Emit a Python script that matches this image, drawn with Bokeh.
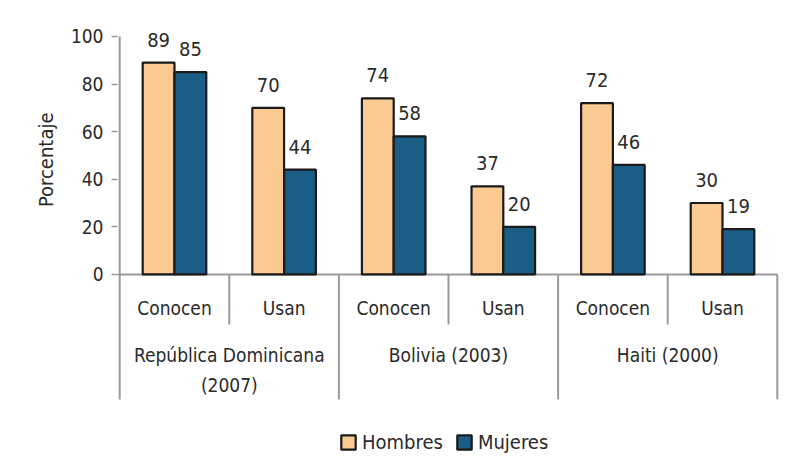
import math
import numpy as np
from bokeh.plotting import figure
from bokeh.models import Range1d, FixedTicker, Legend, LegendItem, Title
from bokeh.core.properties import value
from bokeh.embed import file_html
from bokeh.resources import INLINE

# ---- data ----
groups = ["República Dominicana\n(2007)", "Bolivia (2003)", "Haiti (2000)"]
measures = ["Conocen", "Usan"]
hombres = [89, 70, 74, 37, 72, 30]
mujeres = [85, 44, 58, 20, 46, 19]
y_ticks = [0, 20, 40, 60, 80, 100]
y_label = "Porcentaje"
series_names = ["Hombres", "Mujeres"]

# ---- style ----
FONT = "DejaVu Sans Condensed"
TXT = "#2a2a2a"
C_H = "#FBC992"
C_M = "#1B5E85"
GRID = "#9a9a9a"

n = len(hombres)
centers = np.arange(n) + 0.5
bw = 0.29
sub_labels = [m for g in groups for m in measures]
n_per = len(measures)

p = figure(width=779, height=456, x_range=Range1d(-0.02, n + 0.02),
           y_range=Range1d(-76.5, 102.9), x_axis_type=None,
           min_border_left=117, min_border_right=0, min_border_top=29,
           min_border_bottom=0, outline_line_color=None,
           toolbar_location=None, output_backend="svg")
p.grid.visible = False
p.background_fill_color = "white"

ax = p.yaxis[0]
ax.ticker = FixedTicker(ticks=y_ticks)
ax.axis_line_color = None
ax.major_tick_out = 6
ax.major_tick_in = 0
ax.minor_tick_line_color = None
ax.major_tick_line_color = GRID
ax.major_tick_line_width = 1.5
ax.major_label_text_font = FONT
ax.major_label_text_font_size = "19px"
ax.major_label_text_color = TXT
ax.major_label_standoff = 8

# axis line and baseline
p.segment(x0=[0], y0=[y_ticks[-1]], x1=[0], y1=[-52.5], line_color=GRID, line_width=2)
p.segment(x0=[-0.02], y0=[0], x1=[n], y1=[0], line_color=GRID, line_width=2)
# separators
gx = [i * n_per for i in range(1, len(groups) + 1)]
p.segment(x0=gx, y0=[0] * len(gx), x1=gx, y1=[-52.5] * len(gx), line_color=GRID, line_width=2)
sx = [i * n_per + 1 for i in range(len(groups))]
p.segment(x0=sx, y0=[0] * len(sx), x1=sx, y1=[-21] * len(sx), line_color=GRID, line_width=2)

# bars
rh = p.vbar(x=centers - bw / 2, width=bw, top=hombres, bottom=0,
            fill_color=C_H, line_color="#1a1a1a", line_width=2.2)
rm = p.vbar(x=centers + bw / 2, width=bw, top=mujeres, bottom=0,
            fill_color=C_M, line_color="#1a1a1a", line_width=2.2)

# value labels
for xs, vals in ((centers - bw / 2, hombres), (centers + bw / 2, mujeres)):
    p.text(x=xs, y=vals, text=[str(v) for v in vals], text_align="center",
           text_baseline="alphabetic", y_offset=-23, text_font=value(FONT),
           text_font_size="20px", text_color=TXT)

# category labels
p.text(x=centers, y=[-13.9] * n, text=sub_labels, text_align="center",
       text_baseline="middle", text_font=value(FONT), text_font_size="19px",
       text_color=TXT)
gc = [i * n_per + n_per / 2 for i in range(len(groups))]
p.text(x=gc, y=[-29.4] * len(groups), text=groups, text_align="center",
       text_baseline="top", text_font=value(FONT), text_font_size="19px",
       text_color=TXT, text_line_height=1.35)

# y axis title
p.add_layout(Title(text=y_label, align="right", offset=83, standoff=19,
                   text_font=FONT, text_font_size="20px",
                   text_font_style="normal", text_color=TXT), "left")

legend = Legend(items=[LegendItem(label=series_names[0], renderers=[rh]),
                       LegendItem(label=series_names[1], renderers=[rm])],
                orientation="horizontal", location=(222, 2),
                glyph_width=18, glyph_height=18, label_standoff=5, spacing=12,
                padding=0, margin=0, border_line_color=None,
                background_fill_alpha=0, label_text_font=FONT,
                label_text_font_size="20px", label_text_color=TXT)
p.add_layout(legend)

open("out.html", "w").write(file_html(p, INLINE))
